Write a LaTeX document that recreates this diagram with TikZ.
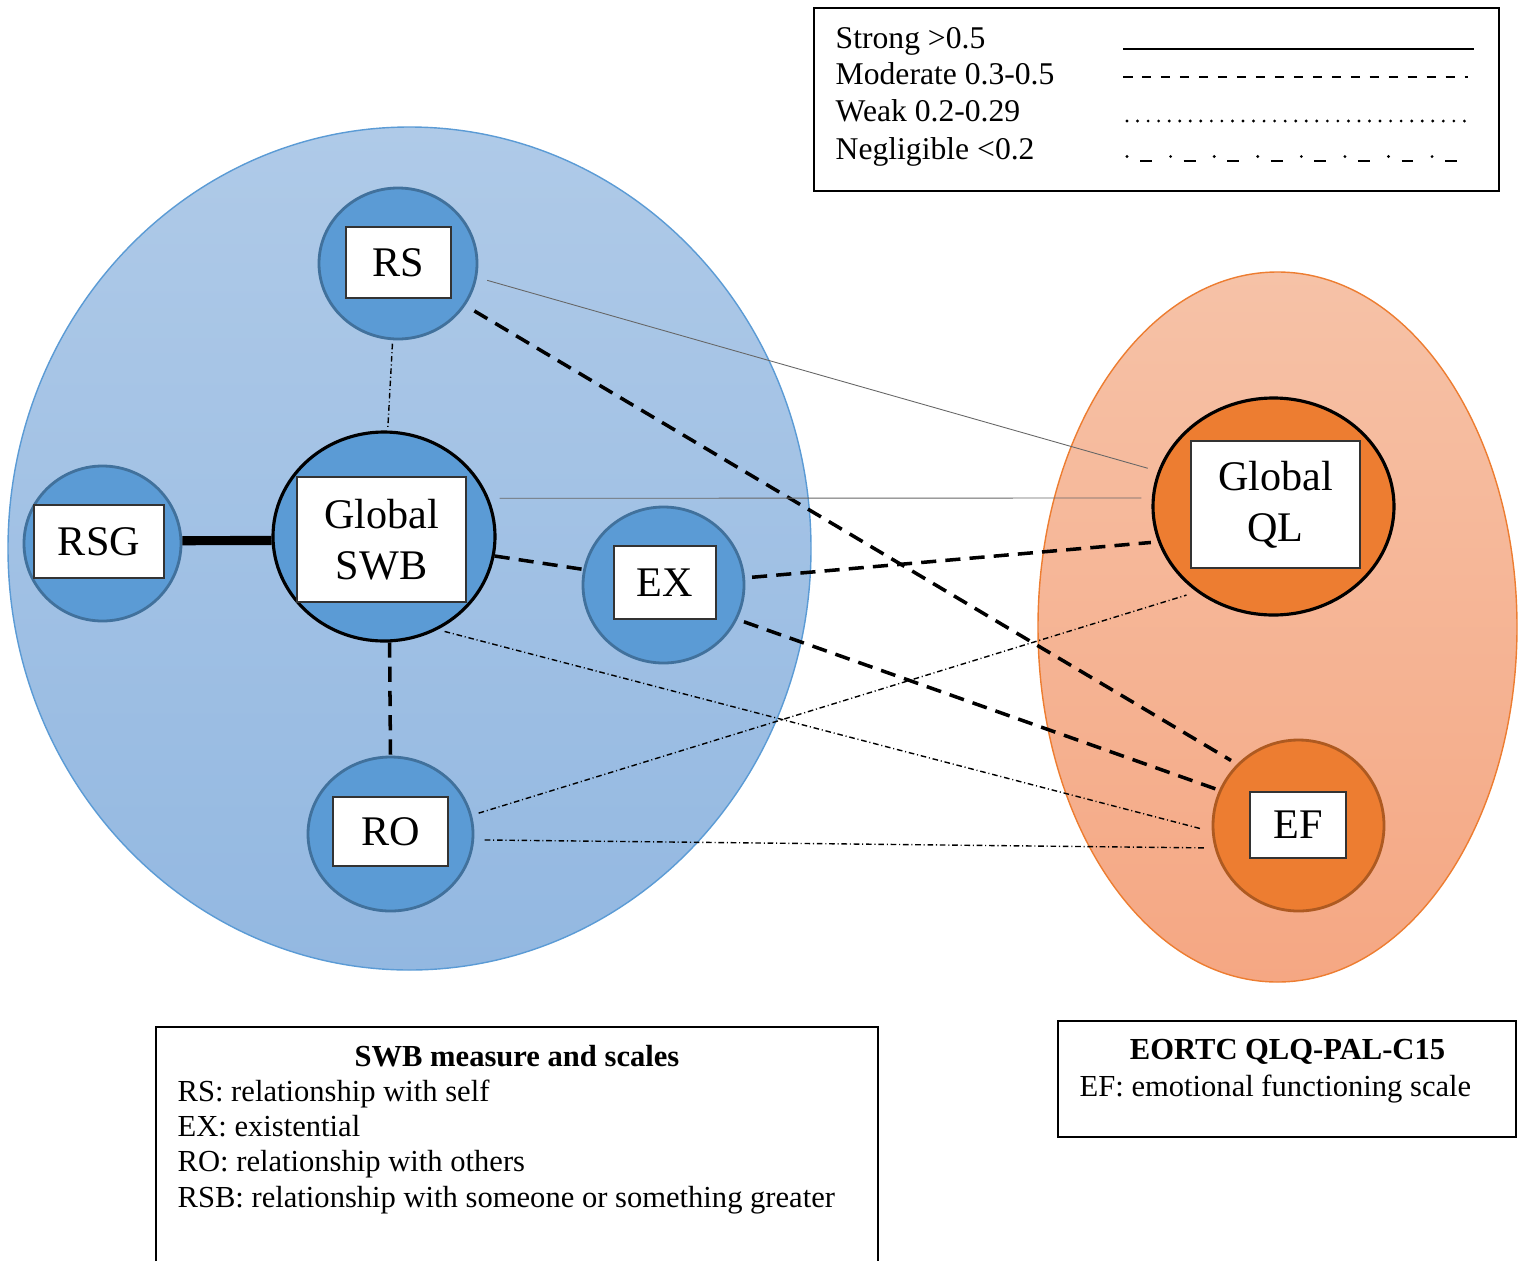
\documentclass[tikz,border=0pt]{standalone}
\usepackage{fontspec}
\setmainfont{Liberation Serif}
\usetikzlibrary{shapes.geometric}
\definecolor{swbblue}{HTML}{5B9BD5}
\definecolor{swbedge}{HTML}{41719C}
\definecolor{bigtop}{HTML}{AFCAE8}
\definecolor{bigbot}{HTML}{93B8E1}
\definecolor{qlorange}{HTML}{ED7D31}
\definecolor{efedge}{HTML}{AE5A21}
\definecolor{ortop}{HTML}{F6C2A7}
\definecolor{orbot}{HTML}{F5A783}
\begin{document}
\begin{tikzpicture}[
  sub/.style={ellipse,inner sep=0pt,fill=swbblue,draw=swbedge,line width=0.8pt},
  glob/.style={ellipse,inner sep=0pt,draw=black,line width=0.9pt},
  lab/.style={rectangle,draw=black!80,fill=white,line width=0.5pt,inner sep=0pt,align=center,font=\fontsize{12}{14.5}\selectfont},
  strong/.style={line width=2.6pt},
  moderate/.style={line width=1pt,dash pattern=on 4.3pt off 2.6pt},
  weak/.style={line width=0.25pt,draw=black!60},
  negl/.style={line width=0.4pt,dash pattern=on 1.6pt off 0.8pt on 0.3pt off 0.8pt},
  txt/.style={inner sep=0pt,font=\fontsize{8.7}{10}\selectfont}
]
\useasboundingbox(0,0)rectangle(15.21,-12.61);
% the two measures
\draw[draw=swbblue,line width=0.4pt,top color=bigtop,bottom color=bigbot](4.095,-5.485)ellipse[x radius=4.015,y radius=4.215];
\draw[draw=qlorange,line width=0.4pt,top color=ortop,bottom color=orbot](12.775,-6.27)ellipse[x radius=2.395,y radius=3.55];
% scales
\node(rs)[sub,minimum width=1.58cm,minimum height=1.51cm]at(3.98,-2.635){};
\node(swb)[glob,fill=swbblue,minimum width=2.22cm,minimum height=2.09cm]at(3.84,-5.365){};
\node(rsg)[sub,minimum width=1.57cm,minimum height=1.55cm]at(1.025,-5.435){};
\node(ex)[sub,minimum width=1.61cm,minimum height=1.56cm]at(6.635,-5.85){};
\node(ro)[sub,minimum width=1.65cm,minimum height=1.54cm]at(3.905,-8.34){};
\node(ql)[glob,fill=qlorange,minimum width=2.41cm,minimum height=2.17cm]at(12.735,-5.065){};
\node(ef)[ellipse,inner sep=0pt,fill=qlorange,draw=efedge,line width=0.8pt,minimum width=1.71cm,minimum height=1.71cm]at(12.985,-8.255){};
\node(rsbox)[lab,minimum width=1.05cm,minimum height=0.71cm]at(3.985,-2.625){RS};
\node(swbbox)[lab,minimum width=1.69cm,minimum height=1.25cm]at(3.815,-5.395){Global\\SWB};
\node(rsgbox)[lab,minimum width=1.30cm,minimum height=0.73cm]at(0.99,-5.415){RSG};
\node(exbox)[lab,minimum width=1.02cm,minimum height=0.73cm]at(6.65,-5.825){EX};
\node(robox)[lab,minimum width=1.15cm,minimum height=0.69cm]at(3.905,-8.315){RO};
\node(qlbox)[lab,minimum width=1.69cm,minimum height=1.27cm]at(12.755,-5.045){Global\\QL};
\node(efbox)[lab,minimum width=0.96cm,minimum height=0.66cm]at(12.98,-8.25){EF};
% correlations
\draw[strong](rsg.2)--(swb.182);
\draw[moderate](swb.-87)--(ro.north);
\draw[moderate](swb.-10)--(ex.169);
\draw[moderate,shorten <=3pt,shorten >=2pt](rs.-32)--(ef.135);
\draw[moderate,shorten <=2pt,shorten >=2pt](ex.5)--(ql.197);
\draw[moderate,shorten <=2pt,shorten >=1pt](ex.-25)--(ef.156);
\draw[weak,shorten <=3pt,shorten >=3pt](rs.-10)--(ql.163);
\draw[weak,shorten <=3pt,shorten >=3pt](swb.20)--(ql.176);
\draw[negl,shorten <=1pt,shorten >=1pt](rs.-94)--(swb.88);
\draw[negl,shorten <=2pt,shorten >=3pt](swb.-60)--(ef.184);
\draw[negl,shorten <=2pt,shorten >=3pt](ro.13)--(ql.228);
\draw[negl,shorten <=3pt,shorten >=3pt](ro.-4)--(ef.195);
% key
\draw[line width=0.6pt](8.14,-0.08)rectangle(14.99,-1.91);
\node(lgs)[txt,anchor=base west,font=\fontsize{9}{10}\selectfont]at(8.35,-0.485){Strong >0.5};
\node(lgm)[txt,anchor=base west,font=\fontsize{9}{10}\selectfont]at(8.35,-0.845){Moderate 0.3-0.5};
\node(lgw)[txt,anchor=base west,font=\fontsize{9}{10}\selectfont]at(8.35,-1.215){Weak 0.2-0.29};
\node(lgn)[txt,anchor=base west,font=\fontsize{9}{10}\selectfont]at(8.35,-1.595){Negligible <0.2};
\draw[line width=0.5pt](11.23,-0.49)--(14.74,-0.49);
\draw[line width=0.5pt,dash pattern=on 2.7pt off 2.7pt](11.23,-0.77)--(14.68,-0.77);
\draw[line width=0.9pt,line cap=round,dash pattern=on 0pt off 3pt](11.27,-1.21)--(14.72,-1.21);
\draw[line width=0.9pt,line cap=round,dash pattern=on 0pt off 12.4pt](11.27,-1.565)--(14.6,-1.565);
\draw[line width=0.5pt,dash pattern=on 3.4pt off 9pt](11.40,-1.61)--(14.74,-1.61);
% abbreviations
\draw[line width=0.6pt](1.56,-12.61)--(1.56,-10.27)--(8.78,-10.27)--(8.78,-12.61);
\node(swbhead)[txt,anchor=base]at(5.17,-10.665){\bfseries SWB measure and scales};
\node(swb1)[txt,anchor=base west]at(1.77,-11.015){RS: relationship with self};
\node(swb2)[txt,anchor=base west]at(1.77,-11.365){EX: existential};
\node(swb3)[txt,anchor=base west]at(1.77,-11.715){RO: relationship with others};
\node(swb4)[txt,anchor=base west]at(1.77,-12.075){RSB: relationship with someone or something greater};
\draw[line width=0.6pt](10.58,-10.21)rectangle(15.16,-11.37);
\node(eohead)[txt,anchor=base]at(12.875,-10.595){\bfseries EORTC QLQ-PAL-C15};
\node(eo1)[txt,anchor=base west]at(10.79,-10.965){EF: emotional functioning scale};
\end{tikzpicture}
\end{document}
